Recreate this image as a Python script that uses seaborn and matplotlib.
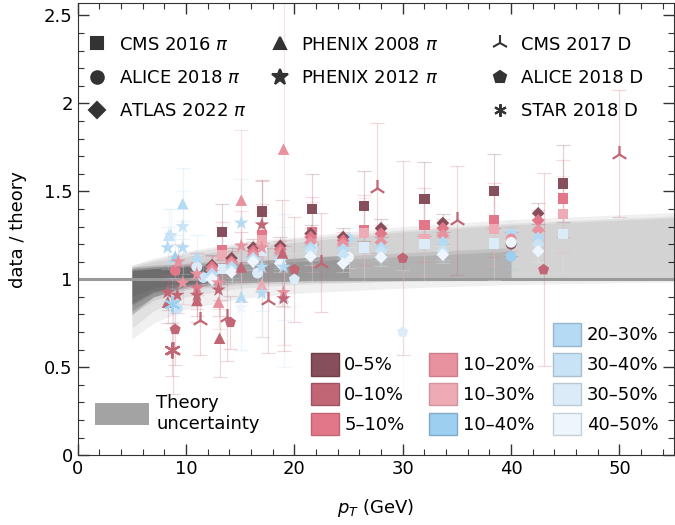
"""Ratio of data to theory for pions and D mesons vs pT"""

import numpy as np
import pandas as pd
import seaborn as sns
import matplotlib.pyplot as plt
from matplotlib.lines import Line2D
from matplotlib.patches import Patch
from matplotlib.ticker import MultipleLocator

# centrality classes and colours
CENT = ["0–5%", "0–10%", "5–10%", "10–20%", "10–30%", "10–40%",
        "20–30%", "30–40%", "30–50%", "40–50%"]
CENT_COLORS = ["#874f5b", "#c16675", "#e3778a", "#e9929f", "#efabb5",
               "#9dcff1", "#b5daf3", "#c9e3f6", "#dbecf8", "#eef5fc"]
CENT_EDGES = ["#6e3e48", "#a05463", "#c26373", "#c97e8a", "#cf949d",
              "#82abc8", "#97b6cc", "#a9bfcf", "#b9c8d3", "#c8cfd6"]

# CMS 2016 pi (squares)
CMS16_PT = [13.3, 17.0, 21.6, 26.4, 32.0, 38.4, 44.8]
CMS16_R = {
    "0–5%":   [1.267, 1.386, 1.400, 1.415, 1.455, 1.500, 1.545],
    "5–10%":  [1.165, 1.250, 1.270, 1.280, 1.307, 1.335, 1.460],
    "10–30%": [1.140, 1.220, 1.240, 1.265, 1.230, 1.284, 1.370],
    "30–50%": [1.060, 1.160, 1.180, 1.180, 1.200, 1.204, 1.256],
}
CMS16_ERR = [0.16, 0.18, 0.20, 0.20, 0.21, 0.21, 0.22]

# ATLAS 2022 pi (diamonds)
ATLAS22_PT = [12.4, 14.2, 16.2, 18.7, 21.5, 24.5, 28.0, 33.7, 42.5]
ATLAS22_R = {
    "0–5%":   [1.08, 1.12, 1.18, 1.19, 1.26, 1.24, 1.29, 1.32, 1.375],
    "5–10%":  [1.07, 1.10, 1.16, 1.17, 1.24, 1.22, 1.26, 1.29, 1.335],
    "10–20%": [1.05, 1.09, 1.14, 1.15, 1.21, 1.20, 1.21, 1.25, 1.28],
    "20–30%": [1.03, 1.07, 1.12, 1.12, 1.18, 1.17, 1.18, 1.21, 1.235],
    "30–40%": [1.01, 1.05, 1.11, 1.11, 1.16, 1.14, 1.16, 1.16, 1.20],
    "40–50%": [1.00, 1.04, 1.10, 1.09, 1.13, 1.09, 1.125, 1.14, 1.16],
}
ATLAS22_ERR = [0.06, 0.06, 0.05, 0.05, 0.05, 0.05, 0.05, 0.05, 0.06]

# ALICE 2018 pi (circles)
ALICE18_PT = [9.0, 9.2, 10.9, 11.0, 11.6, 16.6, 25.0, 25.0,
              40.0, 40.0, 40.0, 40.0, 40.0]
ALICE18_R = [1.05, 0.835, 1.08, 1.07, 1.01, 1.035, 1.23, 1.125,
             1.26, 1.23, 1.20, 1.21, 1.13]
ALICE18_ERR = [0.08, 0.08, 0.07, 0.07, 0.07, 0.06, 0.06, 0.06,
               0.07, 0.07, 0.07, 0.07, 0.07]
ALICE18_CENT = ["5–10%", "30–40%", "10–20%", "30–50%", "30–40%", "30–50%",
                "20–30%", "40–50%", "20–30%", "10–20%", "0–5%", "40–50%",
                "10–40%"]

# PHENIX 2008 pi (triangles)
PHX08_PT = [8.3, 8.4, 9.0, 9.7, 11.0, 11.0, 13.0, 13.1, 15.1, 15.1, 15.1,
            17.0, 18.9, 19.0, 19.0]
PHX08_R = [0.87, 1.25, 1.13, 1.43, 0.88, 1.13, 0.87, 0.665, 1.45, 1.07, 0.90,
           0.97, 1.15, 1.74, 0.90]
PHX08_ERR = [0.12, 0.15, 0.12, 0.20, 0.12, 0.12, 0.15, 0.22, 0.40, 0.20,
             0.30, 0.30, 0.30, 0.90, 0.40]
PHX08_CENT = ["0–10%", "30–40%", "10–40%", "20–30%", "0–10%", "20–30%",
              "10–20%", "0–10%", "10–20%", "0–10%", "20–30%", "10–30%",
              "0–10%", "10–20%", "30–40%"]

# PHENIX 2012 pi (stars)
PHX12_PT = [8.3, 8.3, 8.6, 9.2, 9.3, 9.7, 9.7, 9.7, 11.0, 11.0, 11.0, 13.0,
            13.0, 15.1, 15.1, 15.1, 17.0, 17.0, 17.0, 17.0, 19.0, 19.0, 19.0]
PHX12_R = [0.925, 1.18, 1.25, 0.91, 1.10, 0.98, 1.30, 1.18, 1.03, 0.95, 0.91,
           0.98, 0.94, 1.32, 1.19, 0.84, 1.31, 1.18, 1.07, 0.92, 0.925, 0.89,
           1.07]
PHX12_ERR = [0.10, 0.12, 0.15, 0.10, 0.10, 0.12, 0.20, 0.15, 0.12, 0.12,
             0.12, 0.15, 0.15, 0.25, 0.20, 0.25, 0.25, 0.20, 0.25, 0.25,
             0.30, 0.30, 0.30]
PHX12_CENT = ["0–10%", "20–30%", "30–40%", "0–10%", "10–20%", "10–20%",
              "30–40%", "20–30%", "10–20%", "5–10%", "0–10%", "10–20%",
              "0–10%", "20–30%", "10–20%", "40–50%", "0–10%", "10–20%",
              "20–30%", "20–30%", "10–20%", "0–10%", "20–30%"]

# CMS 2017 D
CMS17_PT = [8.8, 11.3, 13.8, 17.6, 22.5, 27.6, 35.0, 50.0]
CMS17_R = [0.60, 0.767, 0.785, 0.88, 1.095, 1.52, 1.335, 1.715]
CMS17_ERR = [0.25, 0.20, 0.25, 0.30, 0.28, 0.37, 0.31, 0.36]
CMS17_CENT = ["0–10%"] * 8

# ALICE 2018 D (pentagons)
ALICED_PT = [9.0, 14.1, 20.0, 20.0, 30.0, 30.0, 43.0]
ALICED_R = [0.715, 0.755, 1.055, 1.00, 1.12, 0.70, 1.055]
ALICED_ERR = [0.20, 0.15, 0.30, 0.15, 0.55, 0.35, 0.55]
ALICED_CENT = ["0–10%", "0–10%", "0–10%", "30–50%", "0–10%", "30–50%",
               "0–10%"]

# STAR 2018 D
STAR_PT = [8.7, 8.7]
STAR_R = [0.60, 0.86]
STAR_ERR = [0.15, 0.15]
STAR_CENT = ["0–10%", "10–40%"]

# theory uncertainty bands: (pt nodes, lower, upper, opacity)
BAND_PT_LONG = [5, 7, 10, 15, 20, 30, 40, 55]
BAND_PT_40 = [5, 7, 10, 15, 20, 30, 40]
BAND_PT_25 = [5, 7, 10, 15, 20, 25]
BAND_PT_12 = [5, 7, 10, 12]
BANDS = [
    (BAND_PT_LONG, [0.66, 0.75, 0.83, 0.89, 0.92, 0.95, 0.97, 0.985],
     [1.08, 1.12, 1.16, 1.21, 1.24, 1.30, 1.34, 1.38], 0.06),
    (BAND_PT_LONG, [0.72, 0.82, 0.90, 0.95, 0.97, 0.99, 1.00, 1.00],
     [1.07, 1.10, 1.13, 1.18, 1.21, 1.27, 1.31, 1.35], 0.06),
    (BAND_PT_LONG, [0.90, 0.95, 0.98, 1.00, 1.00, 1.00, 1.00, 1.00],
     [1.08, 1.11, 1.15, 1.20, 1.23, 1.28, 1.32, 1.36], 0.06),
    (BAND_PT_40, [0.80, 0.88, 0.94, 0.97, 0.98, 0.99, 0.995],
     [1.06, 1.07, 1.08, 1.10, 1.12, 1.15, 1.18], 0.08),
    (BAND_PT_40, [0.85, 0.92, 0.96, 0.98, 0.99, 0.995, 1.00],
     [1.05, 1.06, 1.07, 1.08, 1.10, 1.13, 1.16], 0.08),
    (BAND_PT_25, [0.82, 0.90, 0.95, 0.98, 0.99, 1.00],
     [1.06, 1.07, 1.08, 1.10, 1.12, 1.14], 0.14),
    (BAND_PT_12, [0.86, 0.93, 0.97, 0.98], [1.05, 1.06, 1.07, 1.08], 0.16),
    (BAND_PT_12, [0.80, 0.90, 0.96, 0.98], [1.07, 1.08, 1.09, 1.10], 0.14),
]

EXPERIMENTS = ["CMS 2016 $\\pi$", "ALICE 2018 $\\pi$", "ATLAS 2022 $\\pi$",
               "PHENIX 2008 $\\pi$", "PHENIX 2012 $\\pi$", "CMS 2017 D",
               "ALICE 2018 D", "STAR 2018 D"]
MARKERS = {"CMS 2016 $\\pi$": "s", "ALICE 2018 $\\pi$": "o",
           "ATLAS 2022 $\\pi$": "D", "PHENIX 2008 $\\pi$": "^",
           "PHENIX 2012 $\\pi$": "*", "CMS 2017 D": "2",
           "ALICE 2018 D": "p", "STAR 2018 D": (6, 2, 0)}
SIZES = {"s": 55, "o": 60, "D": 42, "^": 70, "*": 120, "2": 150, "p": 70,
         (6, 2, 0): 110}

X_TICKLABELS = ["0", "10", "20", "30", "40", "50"]
Y_TICKLABELS = ["0", "0.5", "1", "1.5", "2", "2.5"]

# ---------------------------------------------------------------- data frame
rows = []
for cent, vals in CMS16_R.items():
    for p, r, e in zip(CMS16_PT, vals, CMS16_ERR):
        rows.append(("CMS 2016 $\\pi$", p, r, e, cent))
for cent, vals in ATLAS22_R.items():
    for p, r, e in zip(ATLAS22_PT, vals, ATLAS22_ERR):
        rows.append(("ATLAS 2022 $\\pi$", p, r, e, cent))
for name, pts, rs, es, cs in [
        ("ALICE 2018 $\\pi$", ALICE18_PT, ALICE18_R, ALICE18_ERR, ALICE18_CENT),
        ("PHENIX 2008 $\\pi$", PHX08_PT, PHX08_R, PHX08_ERR, PHX08_CENT),
        ("PHENIX 2012 $\\pi$", PHX12_PT, PHX12_R, PHX12_ERR, PHX12_CENT),
        ("CMS 2017 D", CMS17_PT, CMS17_R, CMS17_ERR, CMS17_CENT),
        ("ALICE 2018 D", ALICED_PT, ALICED_R, ALICED_ERR, ALICED_CENT),
        ("STAR 2018 D", STAR_PT, STAR_R, STAR_ERR, STAR_CENT)]:
    for p, r, e, c in zip(pts, rs, es, cs):
        rows.append((name, p, r, e, c))
df = pd.DataFrame(rows, columns=["exp", "pt", "ratio", "err", "cent"])

palette = dict(zip(CENT, CENT_COLORS))

# ---------------------------------------------------------------- figure
sns.set_style("ticks")
plt.rcParams["font.family"] = ["DejaVu Sans"]
plt.rcParams["mathtext.fontset"] = "dejavusans"
plt.rcParams["font.size"] = 13
for k in ["text.color", "axes.labelcolor", "xtick.color", "ytick.color"]:
    plt.rcParams[k] = "black"

fig, ax = plt.subplots(figsize=(6.75, 5.25), dpi=100)
fig.subplots_adjust(left=0.115, right=0.998, bottom=0.133, top=0.994)

# theory bands
for pts, lo, hi, a in BANDS:
    ax.fill_between(pts, lo, hi, color="black", alpha=a, lw=0, zorder=1)
ax.axhline(1, color="#9a9a9a", lw=2.2, zorder=1.5)

# error bars
for _, r in df.iterrows():
    ax.errorbar(r["pt"], r["ratio"], yerr=r["err"], fmt="none",
                ecolor=palette[r["cent"]], elinewidth=0.9, capsize=5,
                capthick=0.9, alpha=0.25, zorder=2)

# markers
for exp in EXPERIMENTS:
    sub = df[df["exp"] == exp]
    m = MARKERS[exp]
    if m in ("2", (6, 2, 0)):
        for cent, g in sub.groupby("cent"):
            ax.scatter(g["pt"], g["ratio"], marker=m, s=SIZES[m],
                       color=palette[cent], linewidths=1.6, zorder=3)
    else:
        sns.scatterplot(data=sub, x="pt", y="ratio", hue="cent",
                        palette=palette, marker=m, s=SIZES[m], linewidth=0,
                        legend=False, ax=ax, zorder=3)

# axes cosmetics
ax.set_xlim(0, 55)
ax.set_ylim(0, 2.57)
ax.set_xticks([0, 10, 20, 30, 40, 50], X_TICKLABELS)
ax.set_yticks([0, 0.5, 1, 1.5, 2, 2.5], Y_TICKLABELS)
ax.xaxis.set_minor_locator(MultipleLocator(2))
ax.yaxis.set_minor_locator(MultipleLocator(0.1))
ax.tick_params(which="both", direction="in", top=True, right=True,
               color="#333333", labelsize=13)
ax.tick_params(which="major", length=8, width=1)
ax.tick_params(which="minor", length=4, width=0.8)
for s in ax.spines.values():
    s.set_color("#333333")
ax.set_xlabel("$p_T$ (GeV)", fontsize=13, labelpad=14)
ax.set_ylabel("data / theory", fontsize=13, labelpad=12)

# legend: experiments, one column each
exp_handles = [Line2D([], [], ls="none", marker=MARKERS[e], color="#333333",
                      markersize={"*": 12, "D": 8, "2": 12}.get(MARKERS[e], 9),
                      markeredgewidth=1.5) for e in EXPERIMENTS]
for idx, x0 in [([0, 1, 2], 0.018), ([3, 4], 0.324), ([5, 6, 7], 0.693)]:
    leg = ax.legend([exp_handles[i] for i in idx],
                    [EXPERIMENTS[i] for i in idx], loc="upper left",
                    bbox_to_anchor=(x0, 0.928), frameon=False, fontsize=13,
                    handlelength=1.0, handletextpad=0.7, labelspacing=0.85,
                    borderaxespad=0, borderpad=0)
    ax.add_artist(leg)

# legend: centralities, one column each
cent_handles = [Patch(facecolor=c, edgecolor=e, lw=1)
                for c, e in zip(CENT_COLORS, CENT_EDGES)]
for idx, x0 in [([0, 1, 2], 0.391), ([3, 4, 5], 0.590),
                ([6, 7, 8, 9], 0.798)]:
    leg = ax.legend([cent_handles[i] for i in idx], [CENT[i] for i in idx],
                    loc="lower left", bbox_to_anchor=(x0, 0.044),
                    frameon=False, fontsize=13, handlelength=1.55,
                    handleheight=1.55, handletextpad=0.3, labelspacing=0.4,
                    borderaxespad=0, borderpad=0)
    ax.add_artist(leg)

# legend: theory band
ax.legend([Patch(facecolor="#a3a3a3", edgecolor="none")],
          ["Theory\nuncertainty"], loc="lower left",
          bbox_to_anchor=(0.029, 0.05), frameon=False, fontsize=13,
          handlelength=3.0, handleheight=1.5, handletextpad=0.4,
          borderaxespad=0, borderpad=0)

plt.savefig("out.png", dpi=100)
plt.close()
